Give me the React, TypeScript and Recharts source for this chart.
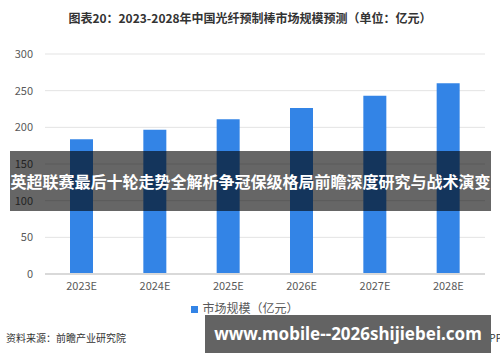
import { Bar, BarChart, CartesianGrid, Legend, XAxis, YAxis } from "recharts";

const years = ["2023E", "2024E", "2025E", "2026E", "2027E", "2028E"];
const marketSize = [183.6, 196.8, 211, 226.4, 243, 260];
const yTicks = [0, 50, 100, 150, 200, 250, 300];

const data = years.map((year, i) => ({ year, value: marketSize[i] }));

const font = "'Noto Sans CJK SC', 'Noto Sans', sans-serif";
const barColor = "#3384E6";

export default function App() {
  return (
    <div
      style={{
        position: "absolute",
        left: 0,
        top: 0,
        width: 500,
        height: 362,
        background: "#fff",
        fontFamily: font,
        overflow: "hidden",
      }}
    >
      <div
        style={{
          position: "absolute",
          top: 9,
          left: 0,
          width: 500,
          textAlign: "center",
          fontSize: 12,
          fontWeight: 700,
          color: "#333",
          lineHeight: "18px",
        }}
      >
        图表20：2023-2028年中国光纤预制棒市场规模预测（单位：亿元）
      </div>

      <BarChart
        width={500}
        height={362}
        data={data}
        margin={{ top: 54, right: 15, bottom: 41, left: 0 }}
        barCategoryGap="34%"
      >
        <CartesianGrid vertical={false} stroke="#e3e3e3" />
        <XAxis
          dataKey="year"
          tickLine={false}
          axisLine={{ stroke: "#d9d9d9", strokeWidth: 2 }}
          tick={{ fontSize: 11, fill: "#595959", fontFamily: font }}
          tickMargin={2}
        />
        <YAxis
          width={45}
          domain={[0, 300]}
          ticks={yTicks}
          tickLine={false}
          axisLine={false}
          tickSize={0}
          tickMargin={12}
          tick={{ fontSize: 11, fill: "#595959", fontFamily: font }}
        />
        <Legend
          verticalAlign="bottom"
          iconType="square"
          iconSize={7}
          wrapperStyle={{ top: 299, left: 0, width: 500, fontSize: 12, fontFamily: font }}
          formatter={(v) => <span style={{ color: "#595959" }}>{v}</span>}
        />
        <Bar
          dataKey="value"
          name="市场规模（亿元）"
          fill={barColor}
          barSize={23}
          isAnimationActive={false}
        />
      </BarChart>

      <div
        style={{
          position: "absolute",
          left: 6,
          top: 330,
          fontSize: 10,
          color: "#333",
        }}
      >
        资料来源：前瞻产业研究院
      </div>
      <div
        style={{
          position: "absolute",
          right: -2,
          top: 330,
          fontSize: 10,
          color: "#333",
        }}
      >
        @前瞻经济学人APP
      </div>

      <div
        style={{
          position: "absolute",
          left: 10,
          top: 151,
          width: 481,
          height: 60,
          background: "rgba(0,0,0,0.6)",
          color: "#fff",
          fontSize: 16,
          fontWeight: 700,
          lineHeight: "60px",
          textAlign: "center",
          whiteSpace: "nowrap",
        }}
      >
        英超联赛最后十轮走势全解析争冠保级格局前瞻深度研究与战术演变
      </div>

      <div
        style={{
          position: "absolute",
          left: 205,
          top: 315,
          width: 286,
          height: 38,
          background: "#636363",
          color: "#fff",
          fontFamily: "'Noto Sans', sans-serif",
          fontSize: 17,
          fontWeight: 700,
          lineHeight: "38px",
          textAlign: "center",
          whiteSpace: "nowrap",
        }}
      >
        www.mobile--2026shijiebei.com
      </div>
    </div>
  );
}
